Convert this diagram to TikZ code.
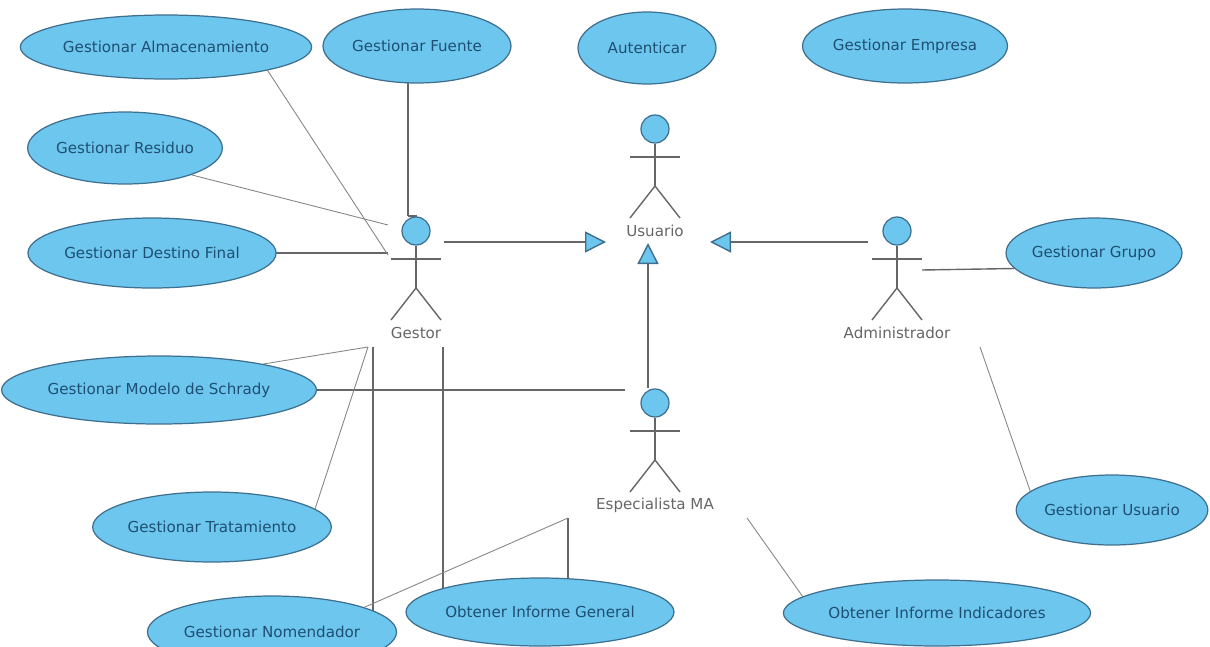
\documentclass[tikz,border=0pt]{standalone}
\usepackage{fontspec}
\setmainfont{DejaVu Sans}
\usetikzlibrary{arrows.meta}
\usetikzlibrary{shapes.geometric,backgrounds}

\definecolor{casefill}{HTML}{6CC6EE}
\definecolor{caseline}{HTML}{3F6F8F}
\definecolor{casetext}{HTML}{1F4F73}
\definecolor{linegray}{HTML}{666666}

\tikzset{
  x=0.02cm,y=-0.02cm,
  usecase/.style={ellipse,draw=caseline,fill=casefill,line width=0.7pt,inner sep=0pt,text=casetext,font=\fontsize{8.6}{10}\selectfont},
  actorhead/.style={circle,draw=caseline,fill=casefill,line width=0.7pt,inner sep=0pt,minimum size=0.56cm},
  actorname/.style={text=linegray,font=\fontsize{8.6}{10}\selectfont,inner sep=0pt},
  assoc/.style={draw=linegray,line width=0.8pt},
  assocthin/.style={draw=linegray!80,line width=0.5pt},
  inherit/.style={draw=linegray,line width=0.8pt,-{Triangle[open,fill=casefill,length=0.42cm,width=0.42cm,line width=0.8pt,color=caseline]}}
}

\begin{document}
\begin{tikzpicture}

\useasboundingbox (0,0) rectangle (1210,646);

\node[usecase,minimum width=5.44cm,minimum height=1.28cm](almacenamiento) at (166,47) {Gestionar Almacenamiento};
\node[usecase,minimum width=3.76cm,minimum height=1.48cm](fuente) at (417,46) {Gestionar Fuente};
\node[usecase,minimum width=2.76cm,minimum height=1.44cm](autenticar) at (647,48) {Autenticar};
\node[usecase,minimum width=4.10cm,minimum height=1.48cm](empresa) at (905,46) {Gestionar Empresa};
\node[usecase,minimum width=3.80cm,minimum height=1.44cm](residuo) at (125,148) {Gestionar Residuo};
\node[usecase,minimum width=4.86cm,minimum height=1.40cm](destino) at (152,253) {Gestionar Destino Final};
\node[usecase,minimum width=3.44cm,minimum height=1.40cm](grupo) at (1094,253) {Gestionar Grupo};
\node[usecase,minimum width=5.86cm,minimum height=1.36cm](modelo) at (159,390) {Gestionar Modelo de Schrady};
\node[usecase,minimum width=4.48cm,minimum height=1.40cm](tratamiento) at (212,527) {Gestionar Tratamiento};
\node[usecase,minimum width=4.82cm,minimum height=1.44cm](nomendador) at (272,632) {Gestionar Nomendador};
\node[usecase,minimum width=4.60cm,minimum height=1.36cm](general) at (540,612) {Obtener Informe General};
\node[usecase,minimum width=6.02cm,minimum height=1.32cm](indicadores) at (937,613) {Obtener Informe Indicadores};
\node[usecase,minimum width=3.50cm,minimum height=1.40cm](usuariocase) at (1112,510) {Gestionar Usuario};

% actors
\foreach \name/\px/\py/\title in {usuario/655/129/Usuario, gestor/416/231/Gestor, admin/897/231/Administrador, especialista/655/403/Especialista MA}
{
    \node[actorhead](\name) at (\px,\py) {};
    \coordinate (\name hip) at (\px,\py+57);
    \coordinate (\name armL) at (\px-25,\py+28);
    \coordinate (\name armR) at (\px+25,\py+28);
    \coordinate (\name footL) at (\px-25,\py+89);
    \coordinate (\name footR) at (\px+25,\py+89);
    \draw[assoc] (\name) -- (\name hip);
    \draw[assoc] (\name armL) -- (\name armR);
    \draw[assoc] (\name footL) -- (\name hip) -- (\name footR);
    \node[actorname] (\name name) at (\px,\py+102) {\title};
}

% free ends
\coordinate (g1) at (408,216);
\coordinate (g2) at (388,255);
\coordinate (g3) at (388,225);
\coordinate (g4) at (388,253);
\coordinate (g5) at (368,347);
\coordinate (g6) at (373,347);
\coordinate (g7) at (443,347);
\coordinate (u1) at (647,114);
\coordinate (a1) at (905,216);
\coordinate (a2) at (922,270);
\coordinate (a3) at (980,347);
\coordinate (e1) at (625,390);
\coordinate (e2) at (568,518);
\coordinate (e3) at (747,518);
\coordinate (e4) at (648,388);
\coordinate (i1) at (444,242);
\coordinate (i2) at (606,242);
\coordinate (i3) at (868,242);
\coordinate (i4) at (710,242);
\coordinate (i5) at (648,243);

\begin{scope}[on background layer]
\foreach \from/\to in {fuente.center/g1, autenticar/u1, empresa/a1, destino/g4, modelo/e1}
    \draw[assoc] (\from |- \to) -- (\to);

\draw[assoc] (g1 |- fuente) -- (g1);
\draw[assoc] (g6) -- (g6 |- nomendador);
\draw[assoc] (g7) -- (g7 |- general);
\draw[assoc] (e2) -- (e2 |- general);
\draw[assoc] (grupo.191) -- (a2);

\foreach \from/\to in {almacenamiento.-13/g2, residuo.-22/g3, tratamiento.10/g5, modelo.14/g5, nomendador.15/e2, indicadores.173/e3, usuariocase.167/a3}
    \draw[assocthin] (\from) -- (\to);
\end{scope}

\foreach \from/\to in {i1/i2, i3/i4, e4/i5}
    \draw[inherit] (\from) -- (\to);

\end{tikzpicture}
\end{document}
